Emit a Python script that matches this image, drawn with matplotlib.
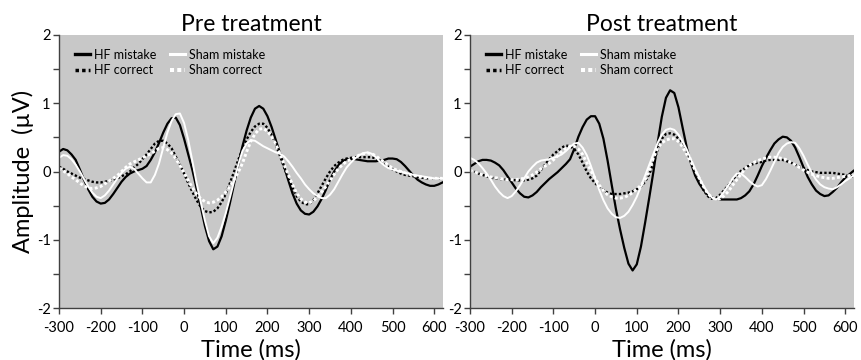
import matplotlib
matplotlib.use('Agg')
import matplotlib.pyplot as plt
import numpy as np
from matplotlib.ticker import MultipleLocator

plt.rcParams['font.family'] = ['Lato', 'DejaVu Sans']
plt.rcParams['axes.unicode_minus'] = False
plt.rcParams['lines.solid_joinstyle'] = 'round'

# time axis, one sample every 10 ms
time_ms = np.arange(-300, 621, 10)

pre_hf_mistake = [
    0.29, 0.33, 0.31, 0.25, 0.17, 0.03, -0.12, -0.26, -0.37, -0.44,
    -0.47, -0.46, -0.41, -0.33, -0.24, -0.15, -0.08, -0.03, 0.00, 0.02,
    0.04, 0.08, 0.17, 0.28, 0.42, 0.57, 0.70, 0.78, 0.79, 0.68,
    0.48, 0.25, 0.02, -0.25, -0.52, -0.80, -1.02, -1.14, -1.10, -0.95,
    -0.72, -0.46, -0.18, 0.10, 0.37, 0.60, 0.79, 0.92, 0.96, 0.92,
    0.81, 0.65, 0.46, 0.27, 0.07, -0.13, -0.32, -0.47, -0.57, -0.62,
    -0.63, -0.59, -0.51, -0.40, -0.27, -0.12, 0.00, 0.09, 0.15, 0.18,
    0.18, 0.18, 0.17, 0.16, 0.15, 0.15, 0.15, 0.16, 0.17, 0.19,
    0.19, 0.18, 0.14, 0.08, 0.01, -0.06, -0.12, -0.16, -0.19, -0.21,
    -0.21, -0.19, -0.16]
pre_hf_correct = [
    0.07, 0.04, 0.00, -0.03, -0.06, -0.09, -0.11, -0.13, -0.15, -0.16,
    -0.16, -0.15, -0.14, -0.12, -0.10, -0.07, -0.04, 0.00, 0.06, 0.11,
    0.18, 0.25, 0.33, 0.41, 0.45, 0.45, 0.41, 0.34, 0.22, 0.10,
    -0.03, -0.17, -0.30, -0.42, -0.52, -0.58, -0.60, -0.59, -0.54, -0.45,
    -0.33, -0.17, 0.00, 0.17, 0.33, 0.47, 0.58, 0.66, 0.70, 0.70,
    0.64, 0.53, 0.39, 0.23, 0.06, -0.10, -0.24, -0.36, -0.44, -0.48,
    -0.48, -0.42, -0.32, -0.21, -0.10, 0.00, 0.08, 0.13, 0.17, 0.19,
    0.20, 0.21, 0.21, 0.21, 0.21, 0.21, 0.19, 0.15, 0.11, 0.07,
    0.03, 0.00, -0.03, -0.05, -0.06, -0.07, -0.08, -0.09, -0.10, -0.10,
    -0.10, -0.10, -0.10]
pre_sham_mistake = [
    0.20, 0.24, 0.23, 0.18, 0.10, 0.00, -0.11, -0.22, -0.31, -0.37,
    -0.39, -0.35, -0.28, -0.19, -0.10, -0.02, 0.04, 0.07, 0.04, -0.03,
    -0.10, -0.16, -0.16, -0.05, 0.12, 0.35, 0.57, 0.74, 0.84, 0.85,
    0.71, 0.46, 0.15, -0.17, -0.45, -0.72, -0.95, -1.05, -0.97, -0.81,
    -0.61, -0.38, -0.14, 0.10, 0.30, 0.41, 0.46, 0.45, 0.41, 0.37,
    0.34, 0.31, 0.28, 0.26, 0.22, 0.15, 0.07, -0.02, -0.10, -0.19,
    -0.26, -0.32, -0.36, -0.39, -0.39, -0.34, -0.26, -0.15, -0.04, 0.06,
    0.13, 0.19, 0.24, 0.27, 0.28, 0.26, 0.21, 0.14, 0.09, 0.05,
    0.03, 0.01, 0.00, -0.02, -0.03, -0.05, -0.06, -0.07, -0.08, -0.09,
    -0.10, -0.10, -0.10]
pre_sham_correct = [
    0.05, 0.01, -0.03, -0.08, -0.12, -0.17, -0.21, -0.24, -0.25, -0.24,
    -0.22, -0.18, -0.14, -0.10, -0.06, 0.00, 0.06, 0.11, 0.14, 0.17,
    0.20, 0.23, 0.26, 0.30, 0.34, 0.35, 0.32, 0.27, 0.19, 0.09,
    -0.02, -0.13, -0.24, -0.33, -0.40, -0.44, -0.46, -0.45, -0.42, -0.37,
    -0.30, -0.22, -0.12, -0.01, 0.12, 0.29, 0.44, 0.55, 0.62, 0.63,
    0.59, 0.51, 0.40, 0.26, 0.10, -0.05, -0.19, -0.32, -0.40, -0.45,
    -0.46, -0.43, -0.37, -0.30, -0.22, -0.13, -0.04, 0.04, 0.10, 0.15,
    0.18, 0.21, 0.24, 0.26, 0.27, 0.26, 0.23, 0.18, 0.14, 0.09,
    0.05, 0.02, 0.00, -0.02, -0.04, -0.06, -0.07, -0.08, -0.09, -0.10,
    -0.10, -0.10, -0.10]

post_hf_mistake = [
    0.07, 0.11, 0.15, 0.17, 0.17, 0.16, 0.13, 0.09, 0.02, -0.07,
    -0.16, -0.25, -0.32, -0.37, -0.38, -0.35, -0.30, -0.23, -0.17, -0.11,
    -0.06, -0.01, 0.05, 0.11, 0.18, 0.33, 0.51, 0.65, 0.76, 0.81,
    0.81, 0.70, 0.48, 0.16, -0.20, -0.55, -0.85, -1.12, -1.35, -1.45,
    -1.36, -1.10, -0.75, -0.38, 0.00, 0.42, 0.80, 1.08, 1.19, 1.15,
    0.94, 0.64, 0.35, 0.12, -0.06, -0.18, -0.27, -0.34, -0.38, -0.40,
    -0.41, -0.41, -0.41, -0.41, -0.41, -0.39, -0.35, -0.29, -0.19, -0.06,
    0.08, 0.20, 0.31, 0.41, 0.47, 0.51, 0.50, 0.45, 0.35, 0.21,
    0.06, -0.08, -0.19, -0.28, -0.33, -0.36, -0.35, -0.30, -0.24, -0.16,
    -0.09, -0.04, 0.01]
post_hf_correct = [
    0.02, 0.00, -0.03, -0.05, -0.07, -0.09, -0.10, -0.11, -0.11, -0.12,
    -0.12, -0.13, -0.13, -0.13, -0.12, -0.10, -0.06, 0.02, 0.10, 0.18,
    0.25, 0.30, 0.35, 0.38, 0.37, 0.33, 0.25, 0.13, 0.00, -0.10,
    -0.17, -0.23, -0.27, -0.31, -0.33, -0.33, -0.33, -0.32, -0.31, -0.29,
    -0.26, -0.22, -0.15, -0.04, 0.12, 0.32, 0.48, 0.55, 0.56, 0.54,
    0.48, 0.40, 0.29, 0.16, 0.02, -0.13, -0.27, -0.36, -0.40, -0.39,
    -0.34, -0.27, -0.20, -0.12, -0.05, 0.01, 0.05, 0.09, 0.11, 0.13,
    0.14, 0.16, 0.17, 0.17, 0.17, 0.17, 0.15, 0.13, 0.10, 0.07,
    0.05, 0.02, 0.00, -0.01, -0.02, -0.02, -0.02, -0.02, -0.03, -0.04,
    -0.05, -0.06, -0.08]
post_sham_mistake = [
    0.20, 0.17, 0.12, 0.05, -0.03, -0.12, -0.22, -0.30, -0.36, -0.39,
    -0.36, -0.29, -0.20, -0.10, 0.00, 0.07, 0.13, 0.16, 0.17, 0.18,
    0.20, 0.22, 0.25, 0.30, 0.36, 0.41, 0.42, 0.35, 0.24, 0.08,
    -0.10, -0.27, -0.42, -0.54, -0.62, -0.67, -0.68, -0.65, -0.59, -0.49,
    -0.37, -0.22, -0.06, 0.10, 0.26, 0.42, 0.54, 0.61, 0.63, 0.61,
    0.54, 0.44, 0.32, 0.18, 0.04, -0.09, -0.21, -0.31, -0.38, -0.41,
    -0.37, -0.29, -0.20, -0.10, -0.03, -0.03, -0.08, -0.14, -0.19, -0.22,
    -0.20, -0.11, 0.01, 0.14, 0.27, 0.36, 0.41, 0.43, 0.42, 0.34,
    0.23, 0.10, -0.02, -0.12, -0.19, -0.23, -0.25, -0.26, -0.23, -0.19,
    -0.14, -0.10, -0.06]
post_sham_correct = [
    0.02, 0.00, -0.03, -0.05, -0.06, -0.08, -0.09, -0.10, -0.11, -0.12,
    -0.12, -0.12, -0.11, -0.10, -0.08, -0.05, -0.01, 0.04, 0.08, 0.12,
    0.17, 0.23, 0.29, 0.34, 0.37, 0.37, 0.33, 0.25, 0.13, 0.01,
    -0.10, -0.20, -0.28, -0.34, -0.37, -0.39, -0.39, -0.38, -0.35, -0.31,
    -0.26, -0.20, -0.12, 0.02, 0.20, 0.34, 0.42, 0.46, 0.48, 0.48,
    0.44, 0.36, 0.25, 0.14, 0.02, -0.10, -0.22, -0.32, -0.38, -0.41,
    -0.40, -0.35, -0.29, -0.20, -0.12, -0.04, 0.04, 0.09, 0.13, 0.16,
    0.18, 0.20, 0.21, 0.21, 0.20, 0.19, 0.17, 0.13, 0.10, 0.06,
    0.02, -0.01, -0.04, -0.06, -0.08, -0.09, -0.10, -0.10, -0.09, -0.08,
    -0.07, -0.06, -0.05]

titles = ['Pre treatment', 'Post treatment']
labels = ['HF mistake', 'HF correct', 'Sham mistake', 'Sham correct']
x_ticks = list(range(-300, 601, 100))
y_ticks = [-2, -1, 0, 1, 2]

BG = '#c8c8c8'
SPINE = '#404040'


def panel(ax, title, series, ylabel):
    ax.set_facecolor(BG)
    hm, hc, sm, sc = series
    ax.plot(time_ms, hm, color='black', lw=1.6, label=labels[0])
    ax.plot(time_ms, hc, color='black', lw=1.7, ls=(0, (1, 0.9)), label=labels[1])
    ax.plot(time_ms, sm, color='white', lw=1.4, label=labels[2])
    ax.plot(time_ms, sc, color='white', lw=2.1, ls=(0, (1, 0.8)), label=labels[3])

    ax.set_xlim(-300, 621)
    ax.set_ylim(-2, 2)
    ax.set_xticks(x_ticks)
    ax.set_yticks(y_ticks)
    ax.yaxis.set_minor_locator(MultipleLocator(0.5))
    ax.tick_params(axis='both', which='both', direction='out', length=4,
                   width=1, color=SPINE, labelsize=10.5)
    ax.tick_params(axis='x', pad=5)
    ax.tick_params(axis='y', pad=2)
    for side in ['top', 'right']:
        ax.spines[side].set_visible(False)
    for side in ['left', 'bottom']:
        ax.spines[side].set_color(SPINE)
        ax.spines[side].set_linewidth(1)

    ax.set_title(title, fontsize=16.5, pad=1)
    ax.set_xlabel('Time (ms)', fontsize=17, labelpad=3)
    if ylabel:
        ax.set_ylabel('Amplitude  (\u00b5V)', fontsize=17)
        ax.yaxis.set_label_coords(-0.065, 0.5)

    leg = ax.legend(ncol=2, loc='upper left', bbox_to_anchor=(0.042, 0.95),
                    frameon=False, fontsize=9, handlelength=1.2,
                    handletextpad=0.3, columnspacing=1.1, labelspacing=0.3,
                    borderaxespad=0, borderpad=0)
    for line in leg.get_lines():
        line.set_linewidth(line.get_linewidth() + 0.8)


fig = plt.figure(figsize=(8.61, 3.6), dpi=100)
ax1 = fig.add_axes([59 / 861, 1 - 308 / 360, 384 / 861, 273 / 360])
ax2 = fig.add_axes([470 / 861, 1 - 308 / 360, 384 / 861, 273 / 360])

panel(ax1, titles[0],
      [pre_hf_mistake, pre_hf_correct, pre_sham_mistake, pre_sham_correct], True)
panel(ax2, titles[1],
      [post_hf_mistake, post_hf_correct, post_sham_mistake, post_sham_correct], False)

fig.savefig('out.png', dpi=100)
